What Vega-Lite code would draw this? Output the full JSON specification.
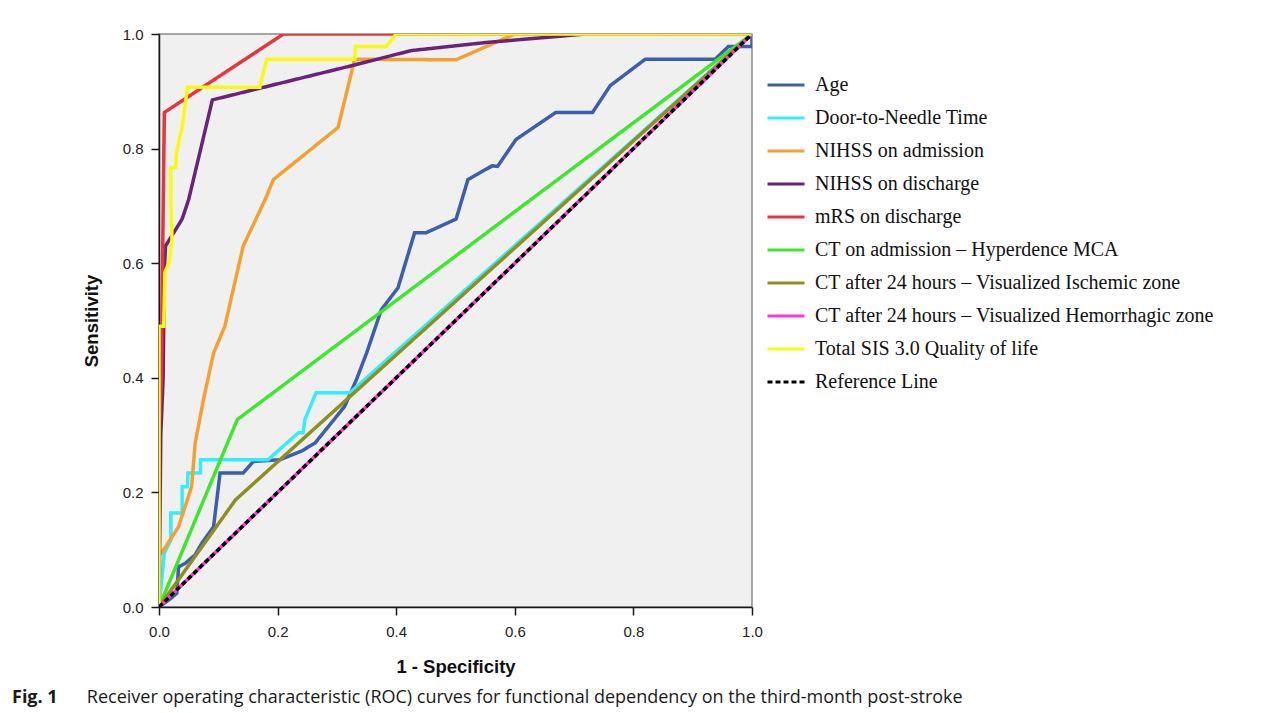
{
  "$schema": "https://vega.github.io/schema/vega-lite/v6.json",
  "width": 593,
  "height": 573,
  "autosize": "none",
  "padding": {"left": 159, "top": 34, "right": 530, "bottom": 106},
  "background": "white",
  "title": {
    "text": "Fig. 1",
    "subtitle": "\u200b\u00a0\u00a0\u00a0\u00a0\u00a0\u00a0\u00a0\u00a0\u00a0\u00a0\u00a0\u00a0\u00a0\u00a0\u00a0\u00a0Receiver operating characteristic (ROC) curves for functional dependency on the third-month post-stroke",
    "orient": "bottom",
    "anchor": "start",
    "frame": "group",
    "dx": -147,
    "offset": 13,
    "font": "Open Sans",
    "fontSize": 18,
    "fontWeight": "bold",
    "color": "#1a1a1a",
    "subtitleFont": "Open Sans",
    "subtitleFontSize": 18,
    "subtitleColor": "#1a1a1a",
    "subtitlePadding": -18
  },
  "data": {
    "values": [
      {"s": "Age", "i": 0, "x": 0, "y": 0},
      {"s": "Age", "i": 1, "x": 0.02, "y": 0.015},
      {"s": "Age", "i": 2, "x": 0.03, "y": 0.024},
      {"s": "Age", "i": 3, "x": 0.033, "y": 0.07},
      {"s": "Age", "i": 4, "x": 0.044, "y": 0.076},
      {"s": "Age", "i": 5, "x": 0.061, "y": 0.091},
      {"s": "Age", "i": 6, "x": 0.072, "y": 0.111},
      {"s": "Age", "i": 7, "x": 0.092, "y": 0.14},
      {"s": "Age", "i": 8, "x": 0.103, "y": 0.234},
      {"s": "Age", "i": 9, "x": 0.142, "y": 0.234},
      {"s": "Age", "i": 10, "x": 0.159, "y": 0.254},
      {"s": "Age", "i": 11, "x": 0.204, "y": 0.257},
      {"s": "Age", "i": 12, "x": 0.24, "y": 0.272},
      {"s": "Age", "i": 13, "x": 0.263, "y": 0.286},
      {"s": "Age", "i": 14, "x": 0.313, "y": 0.35},
      {"s": "Age", "i": 15, "x": 0.333, "y": 0.397},
      {"s": "Age", "i": 16, "x": 0.35, "y": 0.443},
      {"s": "Age", "i": 17, "x": 0.375, "y": 0.519},
      {"s": "Age", "i": 18, "x": 0.403, "y": 0.557},
      {"s": "Age", "i": 19, "x": 0.431, "y": 0.653},
      {"s": "Age", "i": 20, "x": 0.45, "y": 0.653},
      {"s": "Age", "i": 21, "x": 0.501, "y": 0.677},
      {"s": "Age", "i": 22, "x": 0.521, "y": 0.746},
      {"s": "Age", "i": 23, "x": 0.562, "y": 0.77},
      {"s": "Age", "i": 24, "x": 0.571, "y": 0.769},
      {"s": "Age", "i": 25, "x": 0.602, "y": 0.816},
      {"s": "Age", "i": 26, "x": 0.669, "y": 0.863},
      {"s": "Age", "i": 27, "x": 0.731, "y": 0.863},
      {"s": "Age", "i": 28, "x": 0.761, "y": 0.91},
      {"s": "Age", "i": 29, "x": 0.82, "y": 0.956},
      {"s": "Age", "i": 30, "x": 0.938, "y": 0.956},
      {"s": "Age", "i": 31, "x": 0.96, "y": 0.978},
      {"s": "Age", "i": 32, "x": 1, "y": 0.978},
      {"s": "Age", "i": 33, "x": 1, "y": 1},
      {"s": "Door-to-Needle Time", "i": 0, "x": 0, "y": 0},
      {"s": "Door-to-Needle Time", "i": 1, "x": 0.009, "y": 0.094},
      {"s": "Door-to-Needle Time", "i": 2, "x": 0.02, "y": 0.117},
      {"s": "Door-to-Needle Time", "i": 3, "x": 0.02, "y": 0.164},
      {"s": "Door-to-Needle Time", "i": 4, "x": 0.039, "y": 0.164},
      {"s": "Door-to-Needle Time", "i": 5, "x": 0.039, "y": 0.21},
      {"s": "Door-to-Needle Time", "i": 6, "x": 0.048, "y": 0.21},
      {"s": "Door-to-Needle Time", "i": 7, "x": 0.049, "y": 0.234},
      {"s": "Door-to-Needle Time", "i": 8, "x": 0.07, "y": 0.234},
      {"s": "Door-to-Needle Time", "i": 9, "x": 0.07, "y": 0.257},
      {"s": "Door-to-Needle Time", "i": 10, "x": 0.184, "y": 0.257},
      {"s": "Door-to-Needle Time", "i": 11, "x": 0.235, "y": 0.304},
      {"s": "Door-to-Needle Time", "i": 12, "x": 0.243, "y": 0.304},
      {"s": "Door-to-Needle Time", "i": 13, "x": 0.246, "y": 0.327},
      {"s": "Door-to-Needle Time", "i": 14, "x": 0.26, "y": 0.362},
      {"s": "Door-to-Needle Time", "i": 15, "x": 0.265, "y": 0.374},
      {"s": "Door-to-Needle Time", "i": 16, "x": 0.322, "y": 0.374},
      {"s": "Door-to-Needle Time", "i": 17, "x": 1, "y": 1},
      {"s": "NIHSS on admission", "i": 0, "x": 0, "y": 0},
      {"s": "NIHSS on admission", "i": 1, "x": 0, "y": 0.09},
      {"s": "NIHSS on admission", "i": 2, "x": 0.008, "y": 0.1},
      {"s": "NIHSS on admission", "i": 3, "x": 0.033, "y": 0.14},
      {"s": "NIHSS on admission", "i": 4, "x": 0.044, "y": 0.175},
      {"s": "NIHSS on admission", "i": 5, "x": 0.055, "y": 0.21},
      {"s": "NIHSS on admission", "i": 6, "x": 0.061, "y": 0.286},
      {"s": "NIHSS on admission", "i": 7, "x": 0.075, "y": 0.362},
      {"s": "NIHSS on admission", "i": 8, "x": 0.092, "y": 0.443},
      {"s": "NIHSS on admission", "i": 9, "x": 0.111, "y": 0.49},
      {"s": "NIHSS on admission", "i": 10, "x": 0.142, "y": 0.63},
      {"s": "NIHSS on admission", "i": 11, "x": 0.179, "y": 0.711},
      {"s": "NIHSS on admission", "i": 12, "x": 0.193, "y": 0.746},
      {"s": "NIHSS on admission", "i": 13, "x": 0.302, "y": 0.837},
      {"s": "NIHSS on admission", "i": 14, "x": 0.33, "y": 0.956},
      {"s": "NIHSS on admission", "i": 15, "x": 0.501, "y": 0.955},
      {"s": "NIHSS on admission", "i": 16, "x": 0.6, "y": 1},
      {"s": "NIHSS on admission", "i": 17, "x": 1, "y": 1},
      {"s": "NIHSS on discharge", "i": 0, "x": 0, "y": 0},
      {"s": "NIHSS on discharge", "i": 1, "x": 0.003, "y": 0.3},
      {"s": "NIHSS on discharge", "i": 2, "x": 0.007, "y": 0.4},
      {"s": "NIHSS on discharge", "i": 3, "x": 0.009, "y": 0.59},
      {"s": "NIHSS on discharge", "i": 4, "x": 0.011, "y": 0.63},
      {"s": "NIHSS on discharge", "i": 5, "x": 0.039, "y": 0.677},
      {"s": "NIHSS on discharge", "i": 6, "x": 0.05, "y": 0.711},
      {"s": "NIHSS on discharge", "i": 7, "x": 0.09, "y": 0.885},
      {"s": "NIHSS on discharge", "i": 8, "x": 0.2, "y": 0.913},
      {"s": "NIHSS on discharge", "i": 9, "x": 0.33, "y": 0.946},
      {"s": "NIHSS on discharge", "i": 10, "x": 0.425, "y": 0.971},
      {"s": "NIHSS on discharge", "i": 11, "x": 0.55, "y": 0.985},
      {"s": "NIHSS on discharge", "i": 12, "x": 0.72, "y": 1},
      {"s": "NIHSS on discharge", "i": 13, "x": 1, "y": 1},
      {"s": "mRS on discharge", "i": 0, "x": 0, "y": 0},
      {"s": "mRS on discharge", "i": 1, "x": 0, "y": 0.3},
      {"s": "mRS on discharge", "i": 2, "x": 0.004, "y": 0.4},
      {"s": "mRS on discharge", "i": 3, "x": 0.006, "y": 0.6},
      {"s": "mRS on discharge", "i": 4, "x": 0.009, "y": 0.863},
      {"s": "mRS on discharge", "i": 5, "x": 0.21, "y": 1},
      {"s": "mRS on discharge", "i": 6, "x": 1, "y": 1},
      {"s": "CT on admission – Hyperdence MCA", "i": 0, "x": 0, "y": 0},
      {"s": "CT on admission – Hyperdence MCA", "i": 1, "x": 0.132, "y": 0.327},
      {"s": "CT on admission – Hyperdence MCA", "i": 2, "x": 1, "y": 1},
      {"s": "CT after 24 hours – Visualized Ischemic zone", "i": 0, "x": 0, "y": 0},
      {"s": "CT after 24 hours – Visualized Ischemic zone", "i": 1, "x": 0.129, "y": 0.187},
      {"s": "CT after 24 hours – Visualized Ischemic zone", "i": 2, "x": 1, "y": 1},
      {"s": "CT after 24 hours – Visualized Hemorrhagic zone", "i": 0, "x": 0, "y": 0},
      {"s": "CT after 24 hours – Visualized Hemorrhagic zone", "i": 1, "x": 1, "y": 1},
      {"s": "Total SIS 3.0 Quality of life", "i": 0, "x": 0, "y": 0},
      {"s": "Total SIS 3.0 Quality of life", "i": 1, "x": 0, "y": 0.49},
      {"s": "Total SIS 3.0 Quality of life", "i": 2, "x": 0.008, "y": 0.49},
      {"s": "Total SIS 3.0 Quality of life", "i": 3, "x": 0.01, "y": 0.584},
      {"s": "Total SIS 3.0 Quality of life", "i": 4, "x": 0.017, "y": 0.601},
      {"s": "Total SIS 3.0 Quality of life", "i": 5, "x": 0.022, "y": 0.642},
      {"s": "Total SIS 3.0 Quality of life", "i": 6, "x": 0.02, "y": 0.711},
      {"s": "Total SIS 3.0 Quality of life", "i": 7, "x": 0.02, "y": 0.767},
      {"s": "Total SIS 3.0 Quality of life", "i": 8, "x": 0.028, "y": 0.767},
      {"s": "Total SIS 3.0 Quality of life", "i": 9, "x": 0.03, "y": 0.796},
      {"s": "Total SIS 3.0 Quality of life", "i": 10, "x": 0.039, "y": 0.837},
      {"s": "Total SIS 3.0 Quality of life", "i": 11, "x": 0.048, "y": 0.907},
      {"s": "Total SIS 3.0 Quality of life", "i": 12, "x": 0.17, "y": 0.907},
      {"s": "Total SIS 3.0 Quality of life", "i": 13, "x": 0.173, "y": 0.921},
      {"s": "Total SIS 3.0 Quality of life", "i": 14, "x": 0.182, "y": 0.956},
      {"s": "Total SIS 3.0 Quality of life", "i": 15, "x": 0.33, "y": 0.956},
      {"s": "Total SIS 3.0 Quality of life", "i": 16, "x": 0.331, "y": 0.978},
      {"s": "Total SIS 3.0 Quality of life", "i": 17, "x": 0.383, "y": 0.978},
      {"s": "Total SIS 3.0 Quality of life", "i": 18, "x": 0.4, "y": 1},
      {"s": "Total SIS 3.0 Quality of life", "i": 19, "x": 1, "y": 1},
      {"s": "Reference Line", "i": 0, "x": 0, "y": 0},
      {"s": "Reference Line", "i": 1, "x": 1, "y": 1}
    ]
  },
  "mark": {"type": "line", "strokeWidth": 3.5, "clip": true},
  "encoding": {
    "x": {
      "field": "x",
      "type": "quantitative",
      "scale": {"domain": [0, 1], "nice": false, "zero": false},
      "axis": {
        "title": "1 - Specificity",
        "values": [0, 0.2, 0.4, 0.6, 0.8, 1],
        "format": ".1f",
        "grid": false,
        "labelFlush": false,
        "labelPadding": 9,
        "titlePadding": 18
      }
    },
    "y": {
      "field": "y",
      "type": "quantitative",
      "scale": {"domain": [0, 1], "nice": false, "zero": false},
      "axis": {
        "title": "Sensitivity",
        "values": [0, 0.2, 0.4, 0.6, 0.8, 1],
        "format": ".1f",
        "grid": false,
        "labelFlush": false,
        "labelPadding": 8,
        "titlePadding": 21
      }
    },
    "order": {"field": "i", "type": "quantitative"},
    "color": {
      "field": "s",
      "type": "nominal",
      "scale": {
        "domain": ["Age", "Door-to-Needle Time", "NIHSS on admission", "NIHSS on discharge", "mRS on discharge", "CT on admission – Hyperdence MCA", "CT after 24 hours – Visualized Ischemic zone", "CT after 24 hours – Visualized Hemorrhagic zone", "Total SIS 3.0 Quality of life", "Reference Line"],
        "range": ["#3d5eab", "#33eefa", "#f5a033", "#6b237a", "#e8343c", "#3ee62e", "#8f8f1e", "#ff38cf", "#fafa0f", "#000000"]
      },
      "legend": {"title": null}
    },
    "strokeDash": {
      "field": "s",
      "type": "nominal",
      "scale": {
        "domain": ["Age", "Door-to-Needle Time", "NIHSS on admission", "NIHSS on discharge", "mRS on discharge", "CT on admission – Hyperdence MCA", "CT after 24 hours – Visualized Ischemic zone", "CT after 24 hours – Visualized Hemorrhagic zone", "Total SIS 3.0 Quality of life", "Reference Line"],
        "range": [[1, 0], [1, 0], [1, 0], [1, 0], [1, 0], [1, 0], [1, 0], [1, 0], [1, 0], [5, 3]]
      },
      "legend": {"title": null}
    }
  },
  "config": {
    "view": {"fill": "#f0f0f0", "stroke": "#8a8a8a", "strokeWidth": 1.5},
    "axis": {
      "domainColor": "#1a1a1a",
      "domainWidth": 1.5,
      "tickColor": "#1a1a1a",
      "tickWidth": 1.5,
      "tickSize": 8,
      "labelFont": "Liberation Sans",
      "labelFontSize": 15,
      "labelColor": "#222222",
      "titleFont": "Liberation Sans",
      "titleFontSize": 18.5,
      "titleFontWeight": "bold",
      "titleColor": "#111111"
    },
    "legend": {
      "orient": "none",
      "legendX": 616,
      "legendY": 40,
      "padding": 0,
      "symbolType": "M-2,0L2,0",
      "symbolSize": 342,
      "symbolStrokeWidth": 3,
      "labelFont": "Liberation Serif",
      "labelFontSize": 20,
      "labelColor": "#111111",
      "labelOffset": 18,
      "labelLimit": 600,
      "rowPadding": 12
    }
  }
}
